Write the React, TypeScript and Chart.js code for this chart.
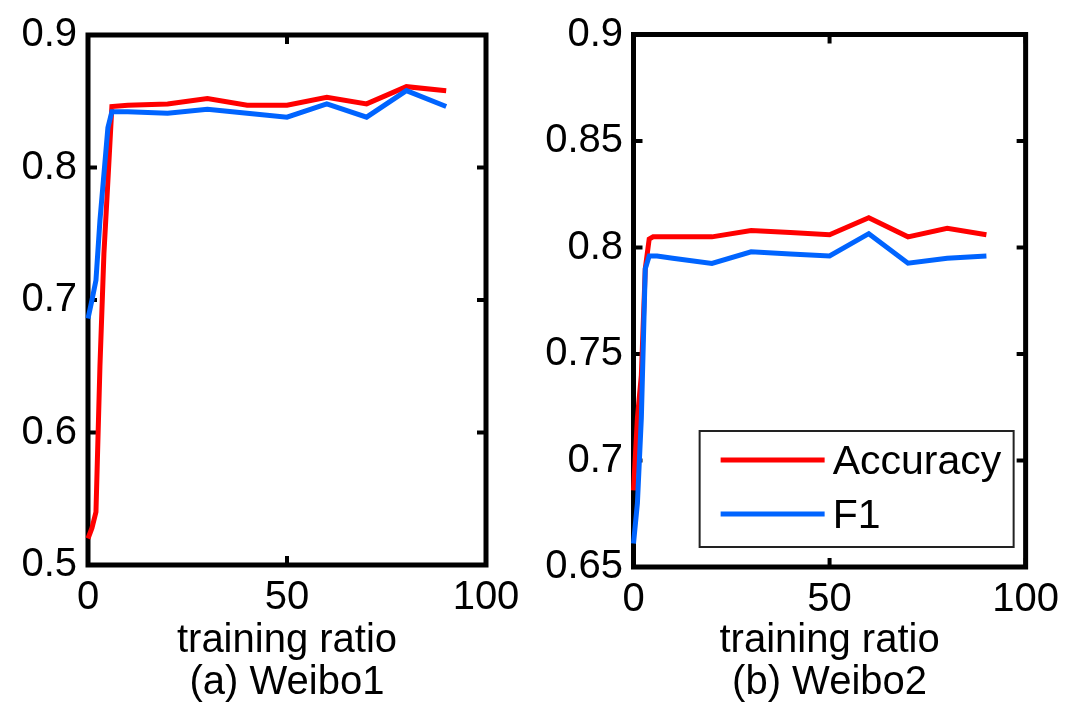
import React, { useEffect, useRef } from 'react';
import { Chart, registerables } from 'chart.js';

Chart.register(...registerables);

// ---------- data ----------
const trainingRatios = [0, 1, 2, 3, 4, 5, 6, 10, 20, 30, 40, 50, 60, 70, 80, 90];

const weibo1Accuracy = [0.52, 0.528, 0.54, 0.65, 0.735, 0.79, 0.846, 0.847, 0.848, 0.852, 0.847, 0.847, 0.853, 0.848, 0.861, 0.858];
const weibo1F1 = [0.686, 0.7, 0.715, 0.76, 0.795, 0.83, 0.842, 0.842, 0.841, 0.844, 0.841, 0.838, 0.848, 0.838, 0.858, 0.846];

const weibo2Accuracy = [0.686, 0.72, 0.74, 0.79, 0.804, 0.805, 0.805, 0.805, 0.805, 0.808, 0.807, 0.806, 0.814, 0.805, 0.809, 0.806];
const weibo2F1 = [0.661, 0.68, 0.72, 0.79, 0.796, 0.796, 0.796, 0.795, 0.7925, 0.798, 0.797, 0.796, 0.8065, 0.7926, 0.795, 0.796];

const xTicks = [0, 50, 100];
const weibo1YTicks = [0.5, 0.6, 0.7, 0.8, 0.9];
const weibo2YTicks = [0.65, 0.7, 0.75, 0.8, 0.85, 0.9];

const seriesLabels = ['Accuracy', 'F1'];
const xAxisTitle = 'training ratio';
const panelCaptions = ['(a) Weibo1', '(b) Weibo2'];

// ---------- styles ----------
const FONT = '"Liberation Sans", Arial, sans-serif';
const RED = '#ff0000';
const BLUE = '#0064ff';

const framePlugin = {
  id: 'frame',
  beforeDatasetsDraw(chart: any) {
    const { ctx, chartArea, scales } = chart;
    const { left, right, top, bottom } = chartArea;
    const seg = (x1: number, y1: number, x2: number, y2: number) => {
      ctx.beginPath();
      ctx.moveTo(x1, y1);
      ctx.lineTo(x2, y2);
      ctx.stroke();
    };
    ctx.save();
    ctx.strokeStyle = '#000';
    ctx.lineWidth = 4;
    const tl = 9;
    scales.y.ticks.forEach((t: any) => {
      const y = scales.y.getPixelForValue(t.value);
      seg(left, y, left + tl, y);
      seg(right, y, right - tl, y);
    });
    scales.x.ticks.forEach((t: any) => {
      const x = scales.x.getPixelForValue(t.value);
      seg(x, bottom, x, bottom - tl);
      seg(x, top, x, top + tl);
    });
    ctx.lineWidth = 5;
    ctx.lineJoin = 'miter';
    ctx.strokeRect(left, top, right - left, bottom - top);
    ctx.restore();
  },
};

const boxLegendPlugin = {
  id: 'boxLegend',
  afterDraw(chart: any, _args: any, opts: any) {
    if (!opts || !opts.display) return;
    const { ctx, chartArea } = chart;
    const w = 314;
    const h = 116;
    const x0 = chartArea.right - 12 - w;
    const y0 = chartArea.bottom - 20 - h;
    ctx.save();
    ctx.fillStyle = '#fff';
    ctx.fillRect(x0, y0, w, h);
    ctx.strokeStyle = '#222';
    ctx.lineWidth = 2;
    ctx.strokeRect(x0, y0, w, h);
    chart.data.datasets.forEach((ds: any, i: number) => {
      const y = y0 + 29 + i * 54;
      ctx.strokeStyle = ds.borderColor;
      ctx.lineWidth = 5;
      ctx.beginPath();
      ctx.moveTo(x0 + 21, y);
      ctx.lineTo(x0 + 125, y);
      ctx.stroke();
      ctx.fillStyle = '#000';
      ctx.font = `41px ${FONT}`;
      ctx.textAlign = 'left';
      ctx.textBaseline = 'middle';
      ctx.fillText(ds.label, x0 + 133, y + 3);
    });
    ctx.restore();
  },
};

type PanelProps = {
  accuracy: number[];
  f1: number[];
  yTicks: number[];
  caption: string;
  yAxisWidth: number;
  xAxisHeight: number;
  padTop: number;
  padRight: number;
  yLabelPad: number;
  showLegend: boolean;
  left: number;
};

function Panel(p: PanelProps) {
  const ref = useRef<HTMLCanvasElement | null>(null);
  useEffect(() => {
    if (!ref.current) return;
    const toPts = (arr: number[]) => trainingRatios.map((x, i) => ({ x, y: arr[i] }));
    const yMin = p.yTicks[0];
    const yMax = p.yTicks[p.yTicks.length - 1];
    const chart = new Chart(ref.current, {
      type: 'line',
      data: {
        datasets: [
          {
            label: seriesLabels[0],
            data: toPts(p.accuracy),
            borderColor: RED,
            backgroundColor: RED,
            borderWidth: 5,
            pointRadius: 0,
            tension: 0,
            clip: false as any,
            order: 2,
          },
          {
            label: seriesLabels[1],
            data: toPts(p.f1),
            borderColor: BLUE,
            backgroundColor: BLUE,
            borderWidth: 5,
            pointRadius: 0,
            tension: 0,
            clip: false as any,
            order: 1,
          },
        ],
      },
      options: {
        responsive: false,
        animation: false,
        devicePixelRatio: 1,
        layout: { padding: { top: p.padTop, right: p.padRight, left: 0, bottom: 0 } },
        plugins: {
          legend: { display: false },
          tooltip: { enabled: false },
          boxLegend: { display: p.showLegend },
        } as any,
        scales: {
          x: {
            type: 'linear',
            min: 0,
            max: 100,
            afterBuildTicks: (s: any) => {
              s.ticks = xTicks.map((v) => ({ value: v }));
            },
            afterFit: (s: any) => {
              s.height = p.xAxisHeight;
            },
            grid: { display: false, drawTicks: false },
            border: { display: false },
            ticks: {
              color: '#000',
              padding: 9,
              font: { family: FONT, size: 40 },
              maxRotation: 0,
              callback: (v: any) => String(v),
            },
            title: {
              display: true,
              text: [xAxisTitle, p.caption],
              color: '#000',
              font: { family: FONT, size: 40, lineHeight: 1.05 },
              padding: { top: 0, bottom: 5 },
            },
          },
          y: {
            type: 'linear',
            min: yMin,
            max: yMax,
            afterBuildTicks: (s: any) => {
              s.ticks = p.yTicks.map((v) => ({ value: v }));
            },
            afterFit: (s: any) => {
              s.width = p.yAxisWidth;
            },
            grid: { display: false, drawTicks: false },
            border: { display: false },
            ticks: {
              color: '#000',
              padding: p.yLabelPad,
              font: { family: FONT, size: 40 },
              callback: (v: any) => String(Number(Number(v).toFixed(2))),
            },
          },
        },
      },
      plugins: [framePlugin, boxLegendPlugin],
    });
    return () => chart.destroy();
  }, []);
  return (
    <canvas
      ref={ref}
      width={534}
      height={709}
      style={{ position: 'absolute', left: p.left, top: 0, width: 534, height: 709 }}
    />
  );
}

export default function App() {
  return (
    <div
      style={{
        position: 'fixed',
        left: 0,
        top: 0,
        width: 1068,
        height: 709,
        background: '#fff',
        overflow: 'hidden',
      }}
    >
      <Panel
        accuracy={weibo1Accuracy}
        f1={weibo1F1}
        yTicks={weibo1YTicks}
        caption={panelCaptions[0]}
        yAxisWidth={88}
        xAxisHeight={144}
        padTop={27.5}
        padRight={48}
        yLabelPad={11}
        showLegend={false}
        left={0}
      />
      <Panel
        accuracy={weibo2Accuracy}
        f1={weibo2F1}
        yTicks={weibo2YTicks}
        caption={panelCaptions[1]}
        yAxisWidth={99.5}
        xAxisHeight={142}
        padTop={33}
        padRight={38}
        yLabelPad={10.5}
        showLegend={true}
        left={534}
      />
    </div>
  );
}
